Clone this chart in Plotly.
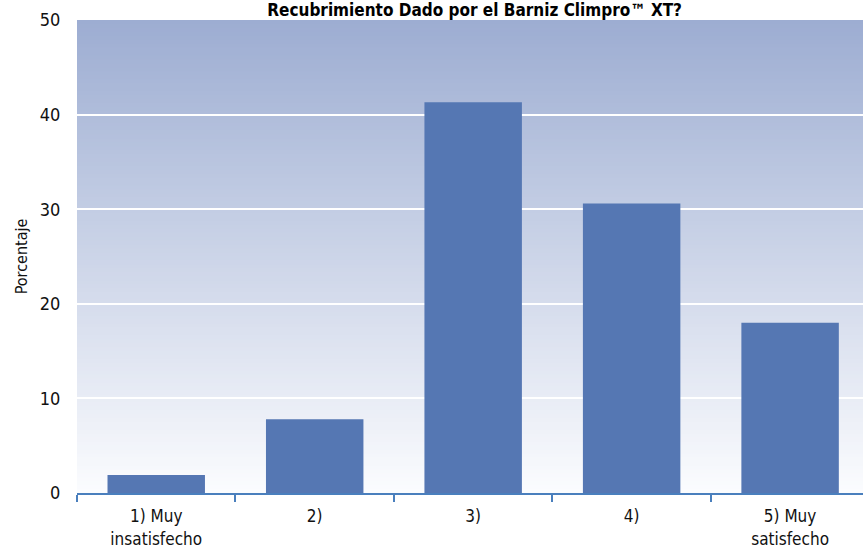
import plotly.graph_objects as go

# Survey results: satisfaction with the varnish coating
categories = ["1) Muy<br>insatisfecho", "2)", "3)", "4)", "5) Muy<br>satisfecho"]
percentages = [1.9, 7.8, 41.3, 30.6, 18.0]
y_ticks = [0, 10, 20, 30, 40, 50]

title_text = "Recubrimiento Dado por el Barniz Climpro™ XT?"
y_title = "Porcentaje"

FONT = "Liberation Sans Narrow, DejaVu Sans Condensed, Arial Narrow, sans-serif"
BAR_COLOR = "#5577b3"
AXIS_COLOR = "#4a7fbd"
TOP_RGB = (157, 173, 210)
BOTTOM_RGB = (251, 252, 254)

fig = go.Figure(
    go.Bar(
        x=categories,
        y=percentages,
        marker=dict(color=BAR_COLOR, line=dict(width=0)),
        width=0.615,
    )
)

# Vertical gradient behind the plot area, built from thin horizontal stripes
n_stripes = 120
shapes = []
for i in range(n_stripes):
    t = i / (n_stripes - 1)
    r, g, b = (round(TOP_RGB[k] + (BOTTOM_RGB[k] - TOP_RGB[k]) * t) for k in range(3))
    y1 = 1 - i / n_stripes
    y0 = 1 - (i + 1) / n_stripes
    shapes.append(
        dict(
            type="rect", xref="paper", yref="paper",
            x0=0, x1=1, y0=y0 - 0.002, y1=y1,
            fillcolor=f"rgb({r},{g},{b})",
            line=dict(width=0), layer="below",
        )
    )

fig.update_layout(
    width=863, height=551,
    margin=dict(l=77, r=0, t=20, b=58),
    paper_bgcolor="white",
    plot_bgcolor="white",
    shapes=shapes,
    showlegend=False,
    font=dict(family=FONT, color="#111111"),
    title=dict(
        text=f"<b>{title_text}</b>",
        x=0.55, xanchor="center",
        y=0.982, yref="container", yanchor="middle",
        font=dict(size=17, family=FONT, color="#000000"),
    ),
    xaxis=dict(
        # the last category runs slightly past the right edge of the plot
        range=[-0.5, 4.46],
        showline=True, linecolor=AXIS_COLOR, linewidth=2,
        ticks="outside", tickson="boundaries", ticklen=7, tickwidth=2,
        tickcolor=AXIS_COLOR,
        ticklabelstandoff=7,
        tickfont=dict(size=17, family=FONT, color="#111111"),
        showgrid=False,
    ),
    yaxis=dict(
        range=[0, 50],
        tickvals=y_ticks,
        showline=False, zeroline=False,
        showgrid=True, gridcolor="white", gridwidth=2,
        ticks="outside", ticklen=12, tickcolor="rgba(0,0,0,0)",
        tickfont=dict(size=18, family=FONT, color="#111111"),
        title=dict(text=y_title, font=dict(size=16, family=FONT, color="#111111"), standoff=8),
    ),
)

fig.write_html("out.html")
